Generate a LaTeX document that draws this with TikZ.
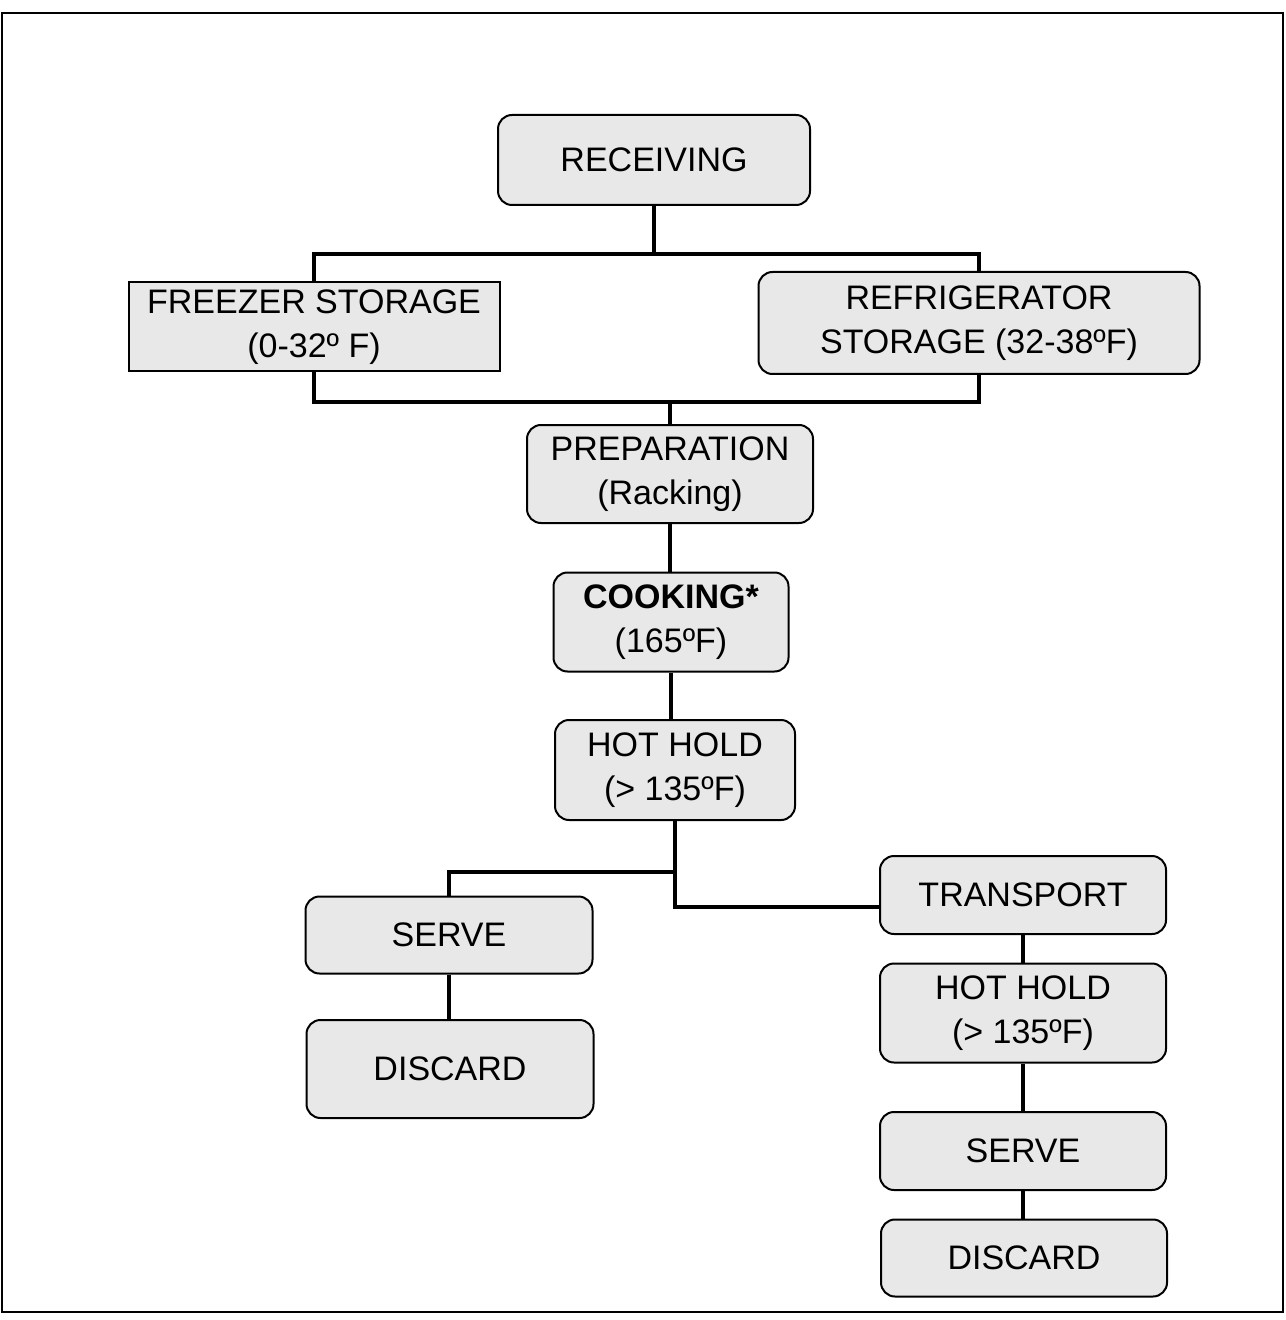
\documentclass[tikz,border=0pt]{standalone}
\usepackage{fontspec}
\setmainfont{Liberation Sans}
\usetikzlibrary{positioning, calc}

\begin{document}
\begin{tikzpicture}[
    x=0.5pt, y=-0.5pt,
    stage/.style={
        rectangle,
        draw,
        line width=1pt,
        rounded corners=7pt,
        align=center,
        inner sep=0pt,
        font=\fontsize{17}{22}\selectfont,
        fill=black!9
    },
    flatstage/.style={stage, rounded corners=0pt},
    link/.style={line width=2pt}
]
    \useasboundingbox (0,0) rectangle (1285,1320);
    \draw[line width=1pt] (2,13) rectangle (1283,1312);

    \node[stage, minimum width=156pt, minimum height=45pt] (recv) at (654,160) {RECEIVING};
    \node[flatstage, minimum width=185.5pt, minimum height=44.5pt] (freezer) at (314,327) {FREEZER STORAGE\\(0-32º F)};
    \node[stage, minimum width=220.5pt, minimum height=51pt] (fridge) at (979,323) {REFRIGERATOR\\STORAGE (32-38ºF)};
    \node[stage, minimum width=143pt, minimum height=49pt] (prep) at (670,474) {PREPARATION\\(Racking)};
    \node[stage, minimum width=117.5pt, minimum height=49.5pt] (cook) at (671,622) {\textbf{COOKING*}\\(165ºF)};
    \node[stage, minimum width=120pt, minimum height=50pt] (hold) at (675,770) {HOT HOLD\\(> 135ºF)};

    \node[stage, minimum width=143.5pt, minimum height=38.5pt] (serveA) at (449,935) {SERVE};
    \node[stage, minimum width=143.5pt, minimum height=49pt] (discardA) at (450,1069) {DISCARD};

    \node[stage, minimum width=143pt, minimum height=39pt] (transport) at (1023,895) {TRANSPORT};
    \node[stage, minimum width=143pt, minimum height=49.5pt] (holdB) at (1023,1013) {HOT HOLD\\(> 135ºF)};
    \node[stage, minimum width=143pt, minimum height=39pt] (serveB) at (1023,1151) {SERVE};
    \node[stage, minimum width=143pt, minimum height=38.5pt] (discardB) at (1024,1258) {DISCARD};

    % storage branch
    \coordinate (split) at (654,254);
    \coordinate (merge) at (670,402);
    \draw[link] (recv.south) -- (split);
    \draw[link] (freezer.north) |- (split) -| (fridge.north);
    \draw[link] (freezer.south) |- (merge) -| (fridge.south);
    \draw[link] (merge) -- (prep.north);

    \draw[link] (prep.south) -- (prep.south |- cook.north);
    \draw[link] (cook.south) -- (cook.south |- hold.north);

    % serve / transport branch
    \coordinate (fork) at (675,872);
    \draw[link] (hold.south) |- ([yshift=-6pt]transport.west);
    \draw[link] (fork) -| (serveA.north);
    \draw[link] (serveA.south) -- (serveA.south |- discardA.north);
    \draw[link] (transport) -- (holdB);
    \draw[link] (holdB) -- (serveB);
    \draw[link] (serveB.south) -- (serveB.south |- discardB.north);
\end{tikzpicture}
\end{document}
